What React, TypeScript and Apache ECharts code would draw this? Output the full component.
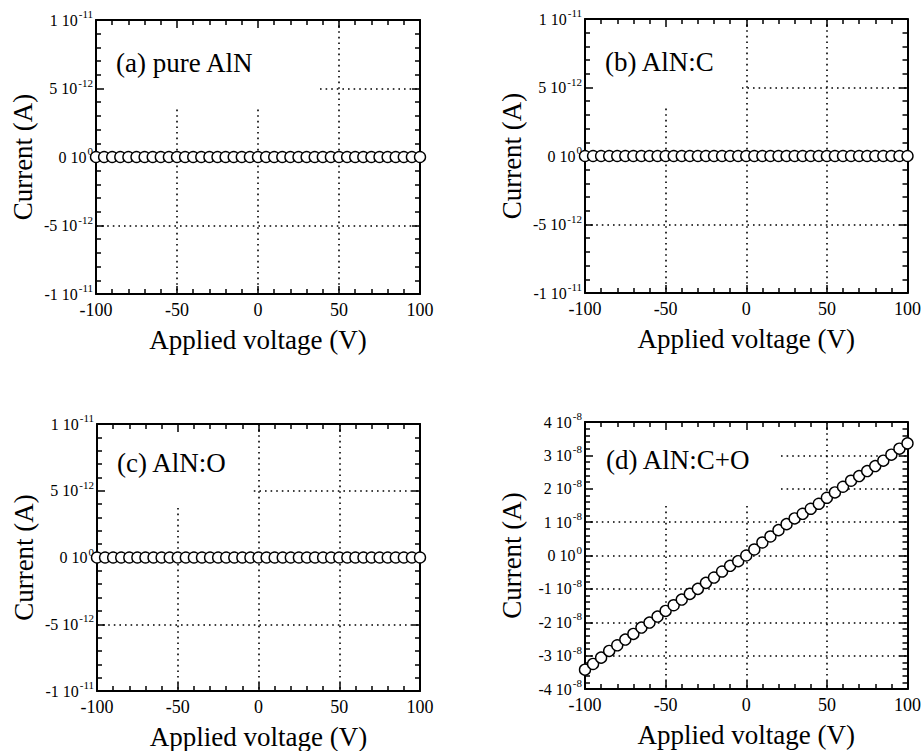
import React, { useEffect, useRef } from 'react';
import * as echarts from 'echarts';

// ---------- data ----------
const voltage = [
  -100, -95, -90, -85, -80, -75, -70, -65, -60, -55,
  -50, -45, -40, -35, -30, -25, -20, -15, -10, -5,
  0, 5, 10, 15, 20, 25, 30, 35, 40, 45,
  50, 55, 60, 65, 70, 75, 80, 85, 90, 95, 100,
];

const currentPureAlN = [
  0, 0, 0, 0, 0, 0, 0, 0, 0, 0,
  0, 0, 0, 0, 0, 0, 0, 0, 0, 0,
  0, 0, 0, 0, 0, 0, 0, 0, 0, 0,
  0, 0, 0, 0, 0, 0, 0, 0, 0, 0, 0,
];

const currentAlNC = [
  0, 0, 0, 0, 0, 0, 0, 0, 0, 0,
  0, 0, 0, 0, 0, 0, 0, 0, 0, 0,
  0, 0, 0, 0, 0, 0, 0, 0, 0, 0,
  0, 0, 0, 0, 0, 0, 0, 0, 0, 0, 0,
];

const currentAlNO = [
  0, 0, 0, 0, 0, 0, 0, 0, 0, 0,
  0, 0, 0, 0, 0, 0, 0, 0, 0, 0,
  0, 0, 0, 0, 0, 0, 0, 0, 0, 0,
  0, 0, 0, 0, 0, 0, 0, 0, 0, 0, 0,
];

const currentAlNCO = [
  -3.42e-8, -3.25e-8, -3.06e-8, -2.86e-8, -2.69e-8, -2.52e-8, -2.35e-8, -2.16e-8, -2.01e-8, -1.83e-8,
  -1.66e-8, -1.49e-8, -1.32e-8, -1.15e-8, -1.0e-8, -0.82e-8, -0.66e-8, -0.48e-8, -0.31e-8, -0.17e-8,
  0, 0.18e-8, 0.39e-8, 0.57e-8, 0.76e-8, 0.94e-8, 1.11e-8, 1.25e-8, 1.4e-8, 1.55e-8,
  1.73e-8, 1.89e-8, 2.06e-8, 2.24e-8, 2.38e-8, 2.53e-8, 2.68e-8, 2.84e-8, 3.02e-8, 3.2e-8, 3.36e-8,
];

const panelTitles = ['(a) pure AlN', '(b) AlN:C', '(c) AlN:O', '(d) AlN:C+O'];
const xAxisTitle = 'Applied voltage (V)';
const yAxisTitle = 'Current (A)';

const yTickLabelsSmall = ['-1 10^-11', '-5 10^-12', '0 10^0', '5 10^-12', '1 10^-11'];
const yTickLabelsLarge = [
  '-4 10^-8', '-3 10^-8', '-2 10^-8', '-1 10^-8', '0 10^0',
  '1 10^-8', '2 10^-8', '3 10^-8', '4 10^-8',
];

// ---------- layout ----------
const FONT = 'Liberation Serif, Times New Roman, serif';

const layout = [
  { grid: { left: 96, top: 20, width: 324, height: 274 }, coverRight: 316, coverBottom: 106, titleX: 116, titleY: 63 },
  { grid: { left: 585, top: 19, width: 324, height: 274 }, coverRight: 742, coverBottom: 107, titleX: 605, titleY: 62 },
  { grid: { left: 97, top: 424, width: 323, height: 268 }, coverRight: 253, coverBottom: 507, titleX: 117, titleY: 463 },
  { grid: { left: 585, top: 422, width: 324, height: 267 }, coverRight: 777, coverBottom: 505, titleX: 606, titleY: 460 },
];

const panelData = [currentPureAlN, currentAlNC, currentAlNO, currentAlNCO];
const yScales = [
  { min: -1e-11, max: 1e-11, interval: 5e-12, labels: yTickLabelsSmall },
  { min: -1e-11, max: 1e-11, interval: 5e-12, labels: yTickLabelsSmall },
  { min: -1e-11, max: 1e-11, interval: 5e-12, labels: yTickLabelsSmall },
  { min: -4e-8, max: 4e-8, interval: 1e-8, labels: yTickLabelsLarge },
];

const makeYFormatter = (labels: string[], min: number, interval: number) => (v: number) => {
  const i = Math.round((v - min) / interval);
  const s = labels[i] ?? '';
  const [m, e] = s.split('^');
  return `{m|${m}}{s|${e ?? ''}}`;
};

const lineStyle = { color: '#000', width: 2 };
const tickStyle = { color: '#000', width: 1.5 };

function buildOption() {
  const grids: any[] = [];
  const xAxes: any[] = [];
  const yAxes: any[] = [];
  const series: any[] = [];
  const graphic: any[] = [];

  layout.forEach((L, p) => {
    grids.push({ ...L.grid, containLabel: false });
    const ys = yScales[p];
    const xBase = { type: 'value', gridIndex: p, min: -100, max: 100, interval: 50 };
    const yBase = { type: 'value', gridIndex: p, min: ys.min, max: ys.max, interval: ys.interval };

    xAxes.push({
      ...xBase,
      position: 'bottom',
      z: 3,
      axisLine: { show: true, onZero: false, lineStyle },
      axisTick: { show: true, inside: true, length: 8, lineStyle: tickStyle },
      minorTick: { show: true, splitNumber: 5, length: 5, lineStyle: tickStyle },
      axisLabel: { show: true, color: '#000', fontSize: 18, fontFamily: FONT, margin: 7 },
      splitLine: { show: false },
      name: xAxisTitle,
      nameLocation: 'middle',
      nameGap: 32,
      nameTextStyle: { color: '#000', fontSize: 27, fontFamily: FONT },
    });
    xAxes.push({
      ...xBase,
      position: 'top',
      z: 3,
      axisLine: { show: true, onZero: false, lineStyle },
      axisTick: { show: true, inside: true, length: 8, lineStyle: tickStyle },
      minorTick: { show: true, splitNumber: 5, length: 5, lineStyle: tickStyle },
      axisLabel: { show: false },
      splitLine: { show: false },
    });
    xAxes.push({
      ...xBase,
      position: 'bottom',
      z: 0,
      axisLine: { show: false },
      axisTick: { show: false },
      axisLabel: { show: false },
      splitLine: { show: true, lineStyle: { color: '#000', width: 1.6, type: [1.6, 4] } },
    });

    yAxes.push({
      ...yBase,
      position: 'left',
      z: 3,
      axisLine: { show: true, onZero: false, lineStyle },
      axisTick: { show: true, inside: true, length: 8, lineStyle: tickStyle },
      minorTick: { show: true, splitNumber: 5, length: 5, lineStyle: tickStyle },
      axisLabel: {
        show: true,
        margin: 3,
        formatter: makeYFormatter(ys.labels, ys.min, ys.interval),
        rich: {
          m: { fontSize: 16, fontFamily: FONT, color: '#000' },
          s: { fontSize: 11, fontFamily: FONT, color: '#000', padding: [0, 0, 12, 1] },
        },
      },
      splitLine: { show: false },
      name: yAxisTitle,
      nameLocation: 'middle',
      nameGap: 60,
      nameTextStyle: { color: '#000', fontSize: 27, fontFamily: FONT },
    });
    yAxes.push({
      ...yBase,
      position: 'right',
      z: 3,
      axisLine: { show: true, onZero: false, lineStyle },
      axisTick: { show: true, inside: true, length: 8, lineStyle: tickStyle },
      minorTick: { show: true, splitNumber: 5, length: 5, lineStyle: tickStyle },
      axisLabel: { show: false },
      splitLine: { show: false },
    });
    yAxes.push({
      ...yBase,
      position: 'left',
      z: 0,
      axisLine: { show: false },
      axisTick: { show: false },
      axisLabel: { show: false },
      splitLine: { show: true, lineStyle: { color: '#000', width: 1.6, type: [1.6, 4] } },
    });

    series.push({
      type: 'scatter',
      xAxisIndex: 3 * p,
      yAxisIndex: 3 * p,
      data: voltage.map((v, i) => [v, panelData[p][i]]),
      symbol: 'circle',
      symbolSize: 11,
      clip: false,
      z: 4,
      itemStyle: { color: '#fff', borderColor: '#000', borderWidth: 1.4, opacity: 1 },
      emphasis: { disabled: true },
    });

    graphic.push({
      type: 'rect',
      silent: true,
      z: 1,
      shape: {
        x: L.grid.left + 1,
        y: L.grid.top + 1,
        width: L.coverRight - L.grid.left - 1,
        height: L.coverBottom - L.grid.top - 1,
      },
      style: { fill: '#fff' },
    });
    graphic.push({
      type: 'text',
      silent: true,
      z: 5,
      x: L.titleX,
      y: L.titleY,
      style: {
        text: panelTitles[p],
        fill: '#000',
        fontSize: 27,
        fontFamily: FONT,
        align: 'left',
        verticalAlign: 'middle',
      },
    });
  });

  return {
    animation: false,
    backgroundColor: '#fff',
    textStyle: { fontFamily: FONT },
    grid: grids,
    xAxis: xAxes,
    yAxis: yAxes,
    series,
    graphic,
  };
}

export default function App() {
  const ref = useRef<HTMLDivElement>(null);
  useEffect(() => {
    if (!ref.current) return;
    const chart = echarts.init(ref.current, undefined, { renderer: 'svg' });
    chart.setOption(buildOption() as any);
    return () => chart.dispose();
  }, []);
  return (
    <div
      ref={ref}
      style={{ position: 'absolute', left: 0, top: 0, width: 924, height: 751, background: '#fff' }}
    />
  );
}
